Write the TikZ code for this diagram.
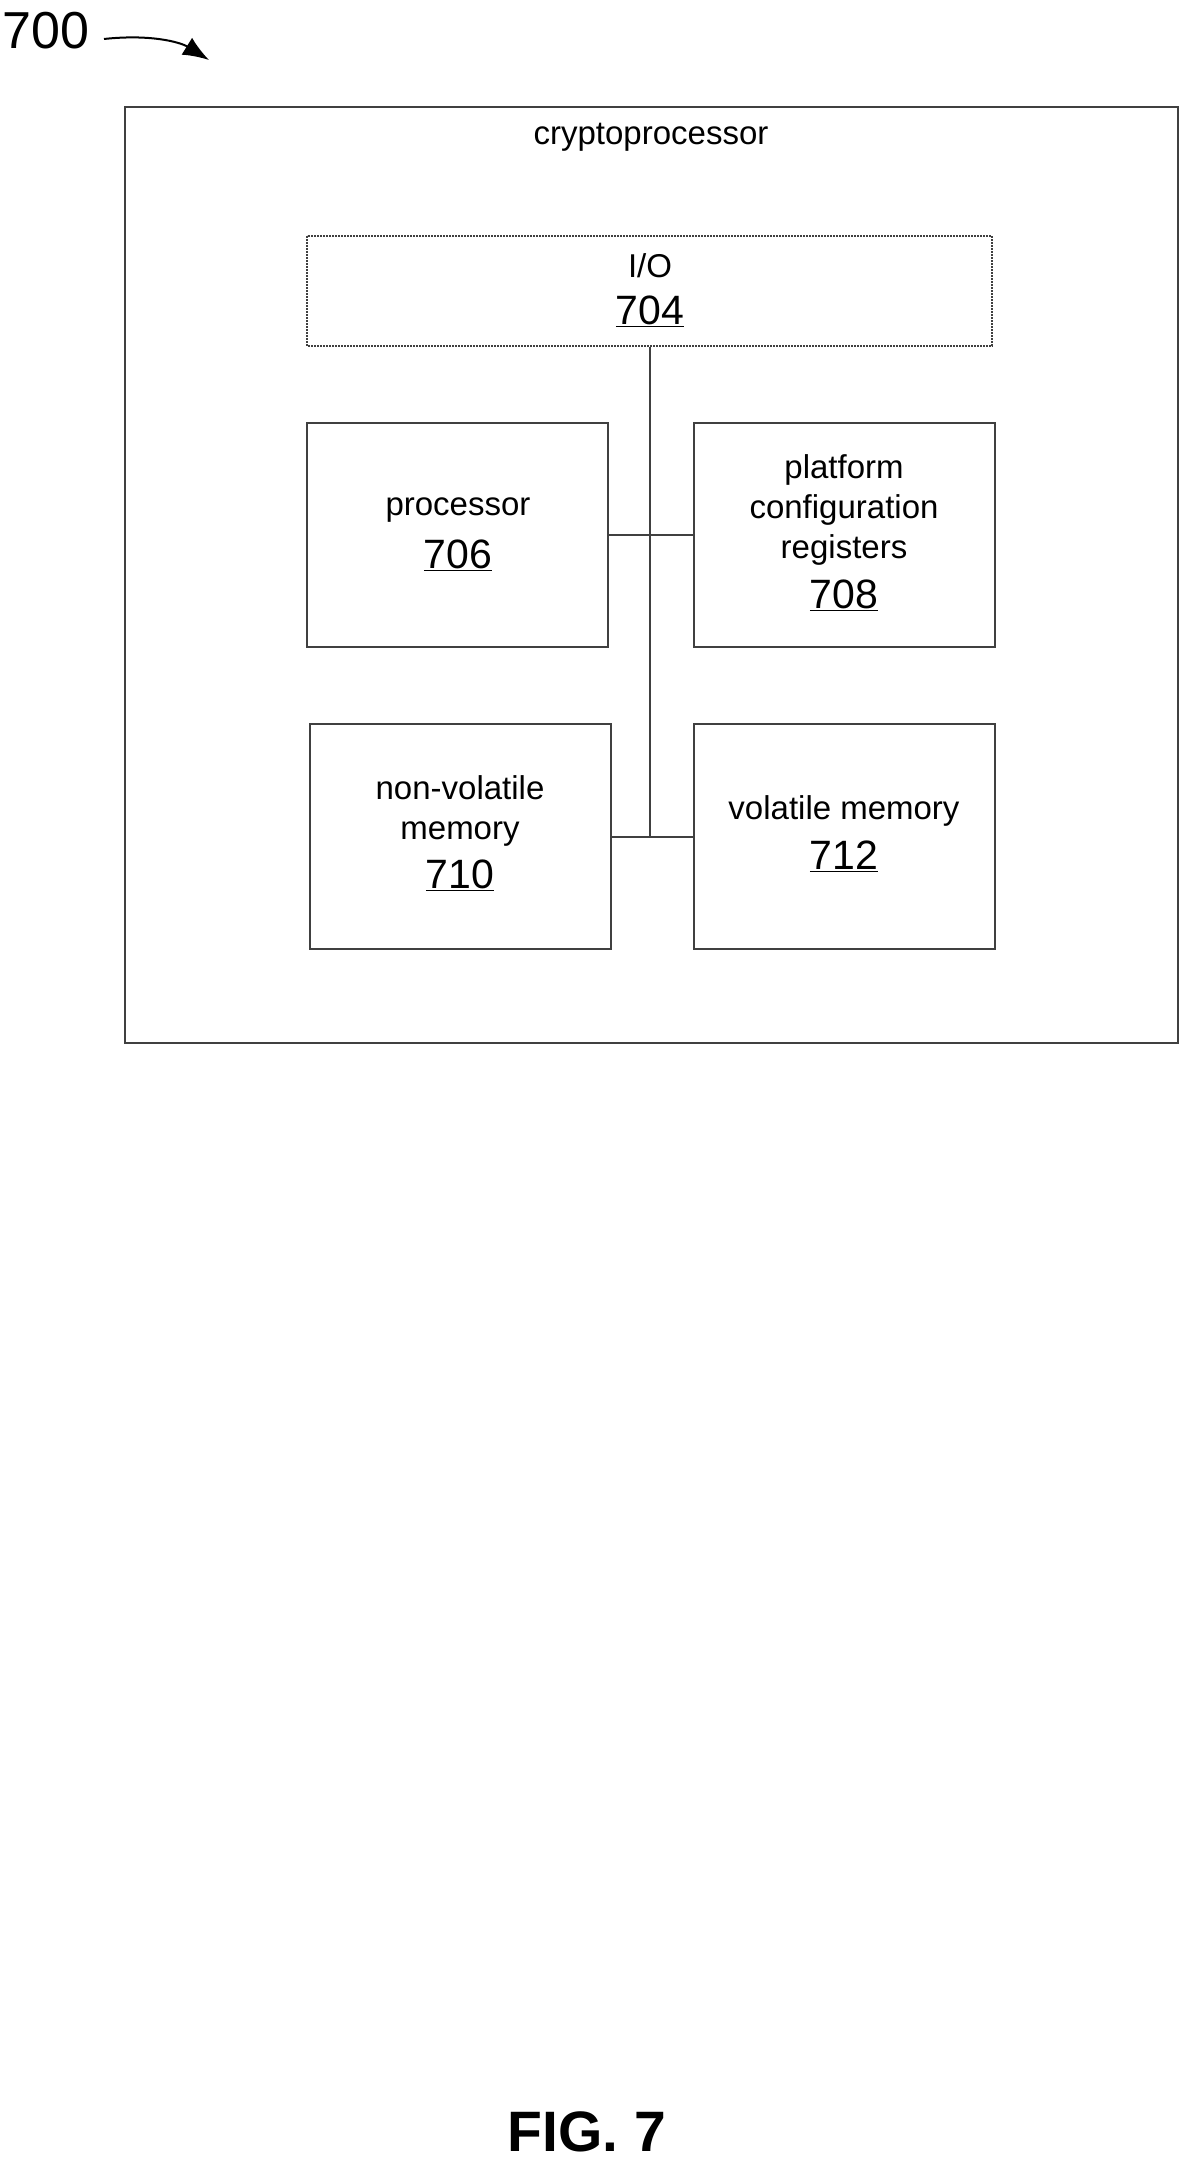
\documentclass[tikz,border=0pt]{standalone}
\usepackage{fontspec}
\usetikzlibrary{arrows.meta}
\setmainfont{Liberation Sans}
\begin{document}
\begin{tikzpicture}[x=1pt,y=-1pt,
  blk/.style={draw=black!75,line width=1.2pt},
  lbl/.style={font=\fontsize{33}{40}\selectfont,align=center},
  num/.style={font=\fontsize{41}{44}\selectfont}]
\useasboundingbox (0,0) rectangle (1195,2167);
\draw[blk] (125,107) rectangle (1178,1043);
\node[lbl] (title) at (651,137) {cryptoprocessor};
\draw[blk,dash pattern=on 2pt off 1pt] (307,236) rectangle (992,346);
\node[inner sep=0] (io) at (650,346) {};
\node[lbl] (iot) at (650,266) {I/O};
\node[num] (ion) at (650,311) {\underline{704}};
\draw[blk] (307,423) rectangle (608,647);
\node[inner sep=0] (pr) at (608,535) {};
\node[lbl] (prt) at (458,510) {processor};
\node[num] (prn) at (458,555) {\underline{706}};
\draw[blk] (694,423) rectangle (995,647);
\node[inner sep=0] (pc) at (694,535) {};
\node[lbl] (pct) at (844,510) {platform\\configuration\\registers};
\node[num] (pcn) at (844,595) {\underline{708}};
\draw[blk] (310,724) rectangle (611,949);
\node[inner sep=0] (nv) at (611,837) {};
\node[lbl] (nvt) at (460,811) {non-volatile\\memory};
\node[num] (nvn) at (460,875) {\underline{710}};
\draw[blk] (694,724) rectangle (995,949);
\node[inner sep=0] (vm) at (694,837) {};
\node[lbl] (vmt) at (844,811) {volatile memory};
\node[num] (vmn) at (844,856) {\underline{712}};
\coordinate (b2) at (650,837);
\draw[blk] (io) -- (b2);
\draw[blk] (pr) -- (pc);
\draw[blk] (nv) -- (vm);
\node[font=\fontsize{52}{52}\selectfont] (lab) at (46,31) {700};
\coordinate (arr) at (209,60);
\draw[line width=2pt,-{Latex[length=26pt,width=20pt]}] (104,39) .. controls (150,34) and (180,42) .. (arr);
\node[font=\bfseries\fontsize{57}{57}\selectfont] (fig) at (587,2132) {FIG. 7};
\end{tikzpicture}
\end{document}
